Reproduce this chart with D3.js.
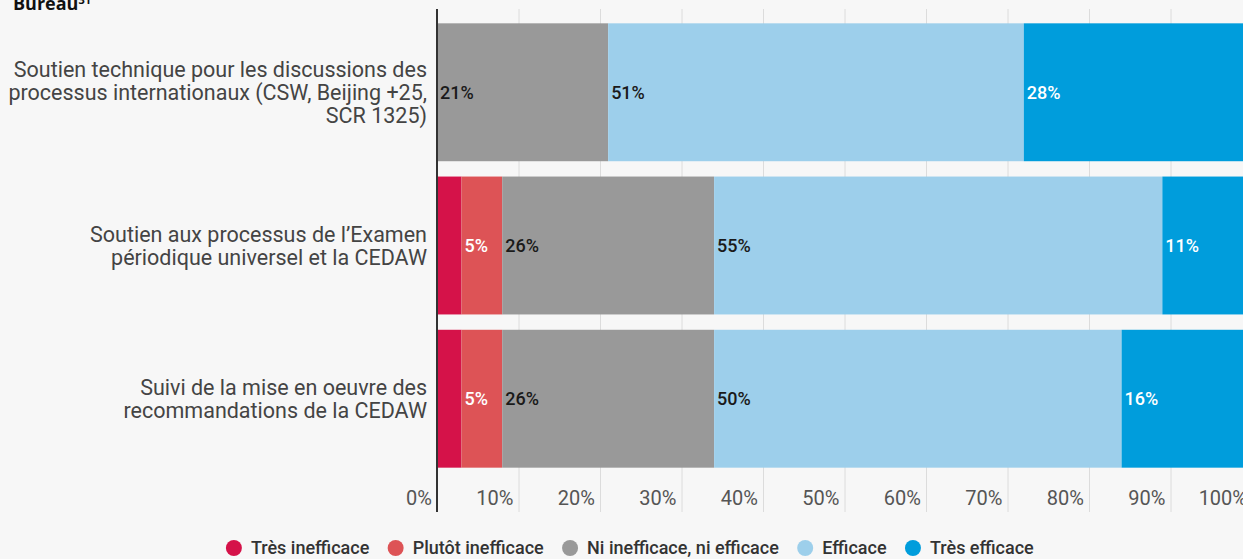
<!DOCTYPE html>
<html>
<head>
<meta charset="utf-8">
<script src="https://cdn.jsdelivr.net/npm/d3@7"></script>
<style>
  body { margin: 0; background: #f7f7f7; }
  svg { display: block; font-family: Roboto, sans-serif; }
</style>
</head>
<body>
<div id="chart"></div>
<script>
// data
var categories = [
  'Soutien technique pour les discussions des\nprocessus internationaux (CSW, Beijing +25,\nSCR 1325)',
  'Soutien aux processus de l\u2019Examen\npériodique universel et la CEDAW',
  'Suivi de la mise en oeuvre des\nrecommandations de la CEDAW'
];
var seriesNames = ['Très inefficace', 'Plutôt inefficace', 'Ni inefficace, ni efficace', 'Efficace', 'Très efficace'];
var tresInefficace = [0, 3, 3];
var plutotInefficace = [0, 5, 5];
var niNi = [21, 26, 26];
var efficace = [51, 55, 50];
var tresEfficace = [28, 11, 16];
var tickValues = [0, 10, 20, 30, 40, 50, 60, 70, 80, 90, 100];

var colors = ['#d51249', '#dd5356', '#999999', '#9dcfeb', '#009ddc'];
var labelColors = ['#fff', '#fff', '#1a1a1a', '#1a1a1a', '#fff'];

var width = 1243, height = 559;
var svg = d3.select('#chart').append('svg')
  .attr('width', width)
  .attr('height', height);

svg.append('rect').attr('width', width).attr('height', height).attr('fill', '#f7f7f7');

// title (cut off at the top in the original)
var title = svg.append('text')
  .attr('x', 13).attr('y', 10)
  .attr('font-family', '"Open Sans", sans-serif')
  .attr('font-weight', 700)
  .attr('font-size', 18)
  .attr('fill', '#111');
title.append('tspan').text('Bureau');
title.append('tspan').attr('font-size', 11).attr('dy', -6).text('31');

var table = categories.map(function(c, i) {
  return { cat: c, v: [tresInefficace[i], plutotInefficace[i], niNi[i], efficace[i], tresEfficace[i]] };
});

var x = d3.scaleLinear().domain([0, 100]).range([437, 1252]);
var y = d3.scaleBand().domain(categories).range([8, 483]).paddingInner(0.1).paddingOuter(0.1);

// grid
svg.append('g').selectAll('line')
  .data(tickValues.slice(1))
  .enter().append('line')
  .attr('x1', function(d) { return x(d) + 0.5; })
  .attr('x2', function(d) { return x(d) + 0.5; })
  .attr('y1', 9).attr('y2', 512)
  .attr('stroke', '#dcdcdc').attr('stroke-width', 1);

// tick labels
svg.append('g').selectAll('text')
  .data(tickValues)
  .enter().append('text')
  .attr('x', function(d) { return x(d) - 5; })
  .attr('y', 498)
  .attr('dy', '0.35em')
  .attr('text-anchor', 'end')
  .attr('font-size', 20)
  .attr('fill', '#555')
  .text(function(d) { return d + '%'; });

// bars
var rows = svg.append('g').selectAll('g')
  .data(table)
  .enter().append('g')
  .attr('transform', function(d) { return 'translate(0,' + y(d.cat) + ')'; });

rows.each(function(d) {
  var g = d3.select(this);
  var acc = 0;
  d.v.forEach(function(v, k) {
    var x0 = acc;
    acc += v;
    if (v <= 0) return;
    g.append('rect')
      .attr('x', x(x0))
      .attr('y', 0)
      .attr('width', x(acc) - x(x0))
      .attr('height', y.bandwidth())
      .attr('fill', colors[k]);
    if (v >= 5) {
      g.append('text')
        .attr('x', x(x0) + 3)
        .attr('y', y.bandwidth() / 2)
        .attr('dy', '0.35em')
        .attr('font-size', 18)
        .attr('font-weight', 500)
        .attr('fill', labelColors[k])
        .text(v + '%');
    }
  });
});

// axis line
svg.append('line')
  .attr('x1', 437).attr('x2', 437)
  .attr('y1', 9).attr('y2', 512)
  .attr('stroke', '#333').attr('stroke-width', 2);

// category labels
svg.append('g').selectAll('text')
  .data(categories)
  .enter().append('text')
  .attr('text-anchor', 'end')
  .attr('font-size', 21.5)
  .attr('fill', '#444')
  .each(function(c) {
    var lines = c.split('\n');
    var cy = y(c) + y.bandwidth() / 2;
    var lh = 23;
    var t = d3.select(this);
    lines.forEach(function(l, i) {
      t.append('tspan')
        .attr('x', 427)
        .attr('y', cy + (i - (lines.length - 1) / 2) * lh)
        .attr('dy', '0.35em')
        .text(l);
    });
  });

// legend
var legend = svg.append('g');
var items = legend.selectAll('g').data(seriesNames).enter().append('g');
items.append('circle').attr('r', 8).attr('cx', 0).attr('cy', 548).attr('fill', function(d, i) { return colors[i]; });
items.append('text')
  .attr('x', 17).attr('y', 548).attr('dy', '0.35em')
  .attr('font-size', 18).attr('font-weight', 500).attr('fill', '#333')
  .text(function(d) { return d; });
var pos = 0, offsets = [];
items.each(function() {
  offsets.push(pos);
  pos += this.getBBox().width + 18;
});
var start = 630 - (pos - 18) / 2 + 8;
items.attr('transform', function(d, i) { return 'translate(' + (start + offsets[i]) + ',0)'; });
</script>
</body>
</html>
